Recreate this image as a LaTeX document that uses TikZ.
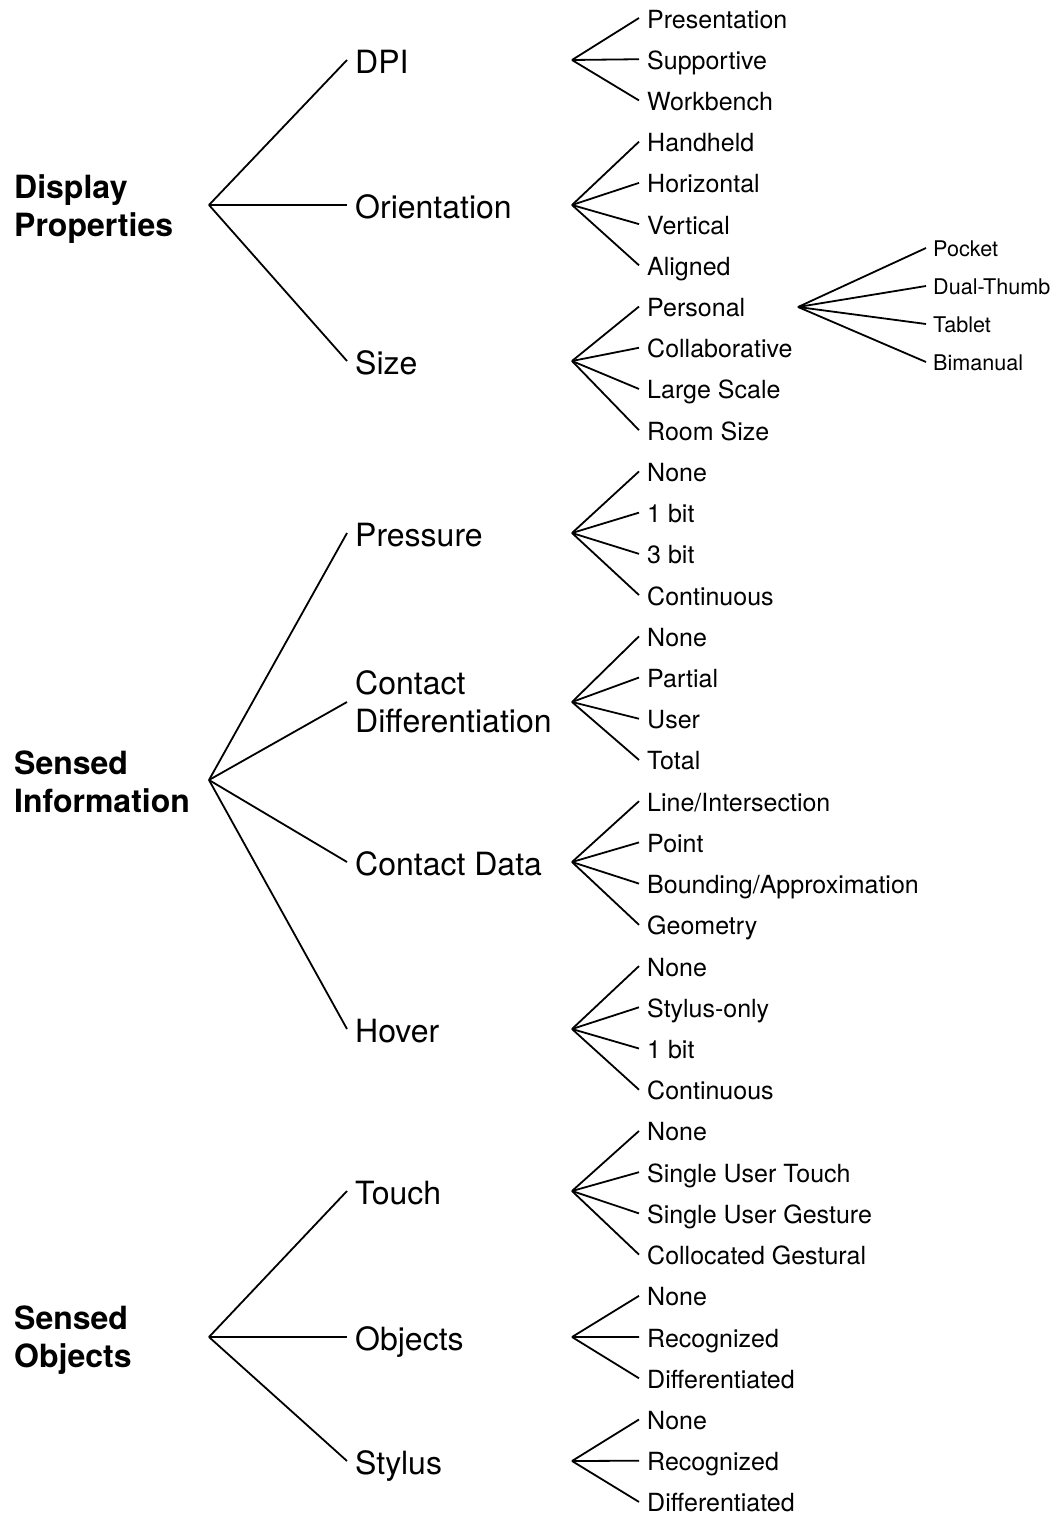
\documentclass[tikz,border=0pt]{standalone}
\usepackage{fontspec}
\setmainfont{TeX Gyre Heros}
\begin{document}
\begin{tikzpicture}[x=1pt,y=-1pt,
  conn/.style={line width=1.8pt, line join=round},
  rootlbl/.style={anchor=base west, align=left, inner sep=0pt, font=\bfseries\fontsize{32}{37.5}\selectfont},
  lvone/.style={anchor=west, inner xsep=8pt, inner ysep=0pt, text height=26pt, text depth=0pt, font=\fontsize{32}{38.5}\selectfont},
  lvonetwo/.style={anchor=west, inner xsep=8pt, inner ysep=0pt, align=left, font=\fontsize{32}{38.5}\selectfont},
  leaf/.style={anchor=west, inner xsep=8pt, inner ysep=0pt, text height=20pt, text depth=0pt, font=\fontsize{25}{30}\selectfont},
  leafthree/.style={anchor=west, inner xsep=7pt, inner ysep=0pt, text height=16pt, text depth=0pt, font=\fontsize{21.6}{25}\selectfont}]
\useasboundingbox (0,0) rectangle (1056,1515);

% root labels (anchored on the baseline of their last line)
\node[rootlbl] (dp) at (14,236) {Display\\Properties};
\node[rootlbl] (si) at (14,812) {Sensed\\Information};
\node[rootlbl] (so) at (14,1367) {Sensed\\Objects};
\coordinate (dpF) at (209,205);
\coordinate (siF) at (209,780);
\coordinate (soF) at (209,1337);

% level one
\node[lvone] (dpi) at (347,60) {DPI};
\node[lvone] (ori) at (347,205) {Orientation};
\node[lvone] (size) at (347,361) {Size};
\node[lvone] (pres) at (347,533) {Pressure};
\node[lvonetwo] (cdiff) at (347,702) {Contact\\Differentiation};
\node[lvone] (cdata) at (347,862) {Contact Data};
\node[lvone] (hover) at (347,1029) {Hover};
\node[lvone] (touch) at (347,1191) {Touch};
\node[lvone] (obj) at (347,1337) {Objects};
\node[lvone] (sty) at (347,1461) {Stylus};

\foreach \a/\b in {dpF/dpi, dpF/ori, dpF/size, siF/pres, siF/cdiff, siF/cdata, siF/hover, soF/touch, soF/obj, soF/sty}
  \draw[conn] (\a) -- (\b.west);

% forks of level one
\coordinate (dpiF) at (572,60);
\coordinate (oriF) at (572,205);
\coordinate (sizeF) at (572,361);
\coordinate (presF) at (572,533);
\coordinate (cdiffF) at (572,702);
\coordinate (cdataF) at (572,862);
\coordinate (hoverF) at (572,1029);
\coordinate (touchF) at (572,1191);
\coordinate (objF) at (572,1337);
\coordinate (styF) at (572,1461);

% leaves
\foreach \txt/\pp [count=\i from 0] in {
  Presentation/dpiF, Supportive/dpiF, Workbench/dpiF,
  Handheld/oriF, Horizontal/oriF, Vertical/oriF, Aligned/oriF,
  Personal/sizeF, Collaborative/sizeF, Large Scale/sizeF, Room Size/sizeF,
  None/presF, 1 bit/presF, 3 bit/presF, Continuous/presF,
  None/cdiffF, Partial/cdiffF, User/cdiffF, Total/cdiffF,
  {Line/Intersection}/cdataF, Point/cdataF, {Bounding/Approximation}/cdataF, Geometry/cdataF,
  None/hoverF, Stylus-only/hoverF, 1 bit/hoverF, Continuous/hoverF,
  None/touchF, Single User Touch/touchF, Single User Gesture/touchF, Collocated Gestural/touchF,
  None/objF, Recognized/objF, Differentiated/objF,
  None/styF, Recognized/styF, Differentiated/styF}
{
  \node[leaf] (leaf\i) at (639,{18+41.22*\i}) {\txt};
  \draw[conn] (\pp) -- (leaf\i.west);
}

% level three under Personal
\coordinate (persF) at (798,307);
\node[leafthree] (pocket) at (926,248) {Pocket};
\node[leafthree] (dual) at (926,286) {Dual-Thumb};
\node[leafthree] (tablet) at (926,324) {Tablet};
\node[leafthree] (biman) at (926,362) {Bimanual};
\foreach \b in {pocket, dual, tablet, biman}
  \draw[conn] (persF) -- (\b.west);
\end{tikzpicture}
\end{document}
